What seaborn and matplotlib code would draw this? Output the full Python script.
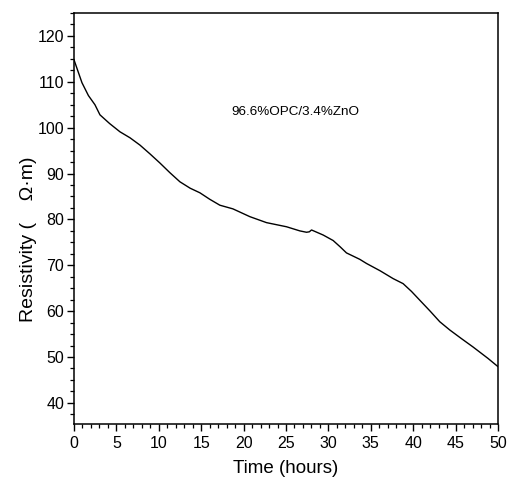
import numpy as np
import pandas as pd
import seaborn as sns
import matplotlib.pyplot as plt
from matplotlib.ticker import MultipleLocator

# values
time_h = [0, 0.3, 0.94, 1.7, 2.47, 3.06, 4.2, 5.42, 6.6, 7.78, 8.95, 10.13,
          11.3, 12.49, 13.7, 14.85, 16.0, 17.2, 18.74, 20.74, 22.7, 25.06,
          26.63, 27.42, 27.75, 28.01, 29.38, 30.56, 31.4, 32.13, 33.7, 34.49,
          36.1, 37.63, 38.81, 39.8, 40.77, 42.0, 43.13, 44.31, 45.7, 47.05,
          48.82, 50]
resistivity = [114.8, 113.2, 109.8, 107.0, 105.0, 102.8, 100.9, 99.1, 97.8,
               96.2, 94.3, 92.3, 90.2, 88.2, 86.8, 85.8, 84.4, 83.1, 82.3,
               80.6, 79.3, 78.4, 77.5, 77.2, 77.3, 77.7, 76.6, 75.4, 74.0,
               72.7, 71.3, 70.4, 68.8, 67.1, 66.0, 64.3, 62.4, 60.0, 57.7,
               55.9, 54.0, 52.2, 49.7, 47.9]
xticks = [0, 5, 10, 15, 20, 25, 30, 35, 40, 45, 50]
yticks = [40, 50, 60, 70, 80, 90, 100, 110, 120]

df = pd.DataFrame({'t': time_h, 'rho': resistivity})

sns.set_theme(style='ticks')
plt.rcParams['font.family'] = ['Liberation Sans', 'DejaVu Sans']

fig = plt.figure(figsize=(5.09, 4.87), dpi=100)
ax = fig.add_axes([74 / 509, 63 / 487, 424 / 509, 411 / 487])

sns.lineplot(data=df, x='t', y='rho', color='black', linewidth=1.0, ax=ax)

ax.set_xlim(0, 50)
ax.set_ylim(35.4, 125)
ax.set_xticks(xticks)
ax.set_yticks(yticks)
ax.xaxis.set_minor_locator(MultipleLocator(1))
ax.yaxis.set_minor_locator(MultipleLocator(2.5))

for s in ax.spines.values():
    s.set_visible(True)
    s.set_color('black')
    s.set_linewidth(1.1)

ax.tick_params(which='major', direction='out', length=5, width=1.0,
               color='black', labelcolor='black', labelsize=11.5, pad=2)
ax.tick_params(which='minor', direction='out', length=3, width=0.9, color='black')
ax.tick_params(axis='x', which='major', pad=4)
ax.tick_params(top=False, right=False)

ax.set_xlabel('Time (hours)', fontsize=13.5, color='black', labelpad=6)
ax.set_ylabel('Resistivity (    Ω·m)', fontsize=14, color='black')
ax.yaxis.label.set_va('center')
ax.yaxis.set_label_coords(-0.108, 0.449)

ax.text(26.1, 103.4, '96.6%OPC/3.4%ZnO', fontsize=9.7, color='black',
        ha='center', va='center')

ax.grid(False)
fig.savefig('out.png', dpi=100)
